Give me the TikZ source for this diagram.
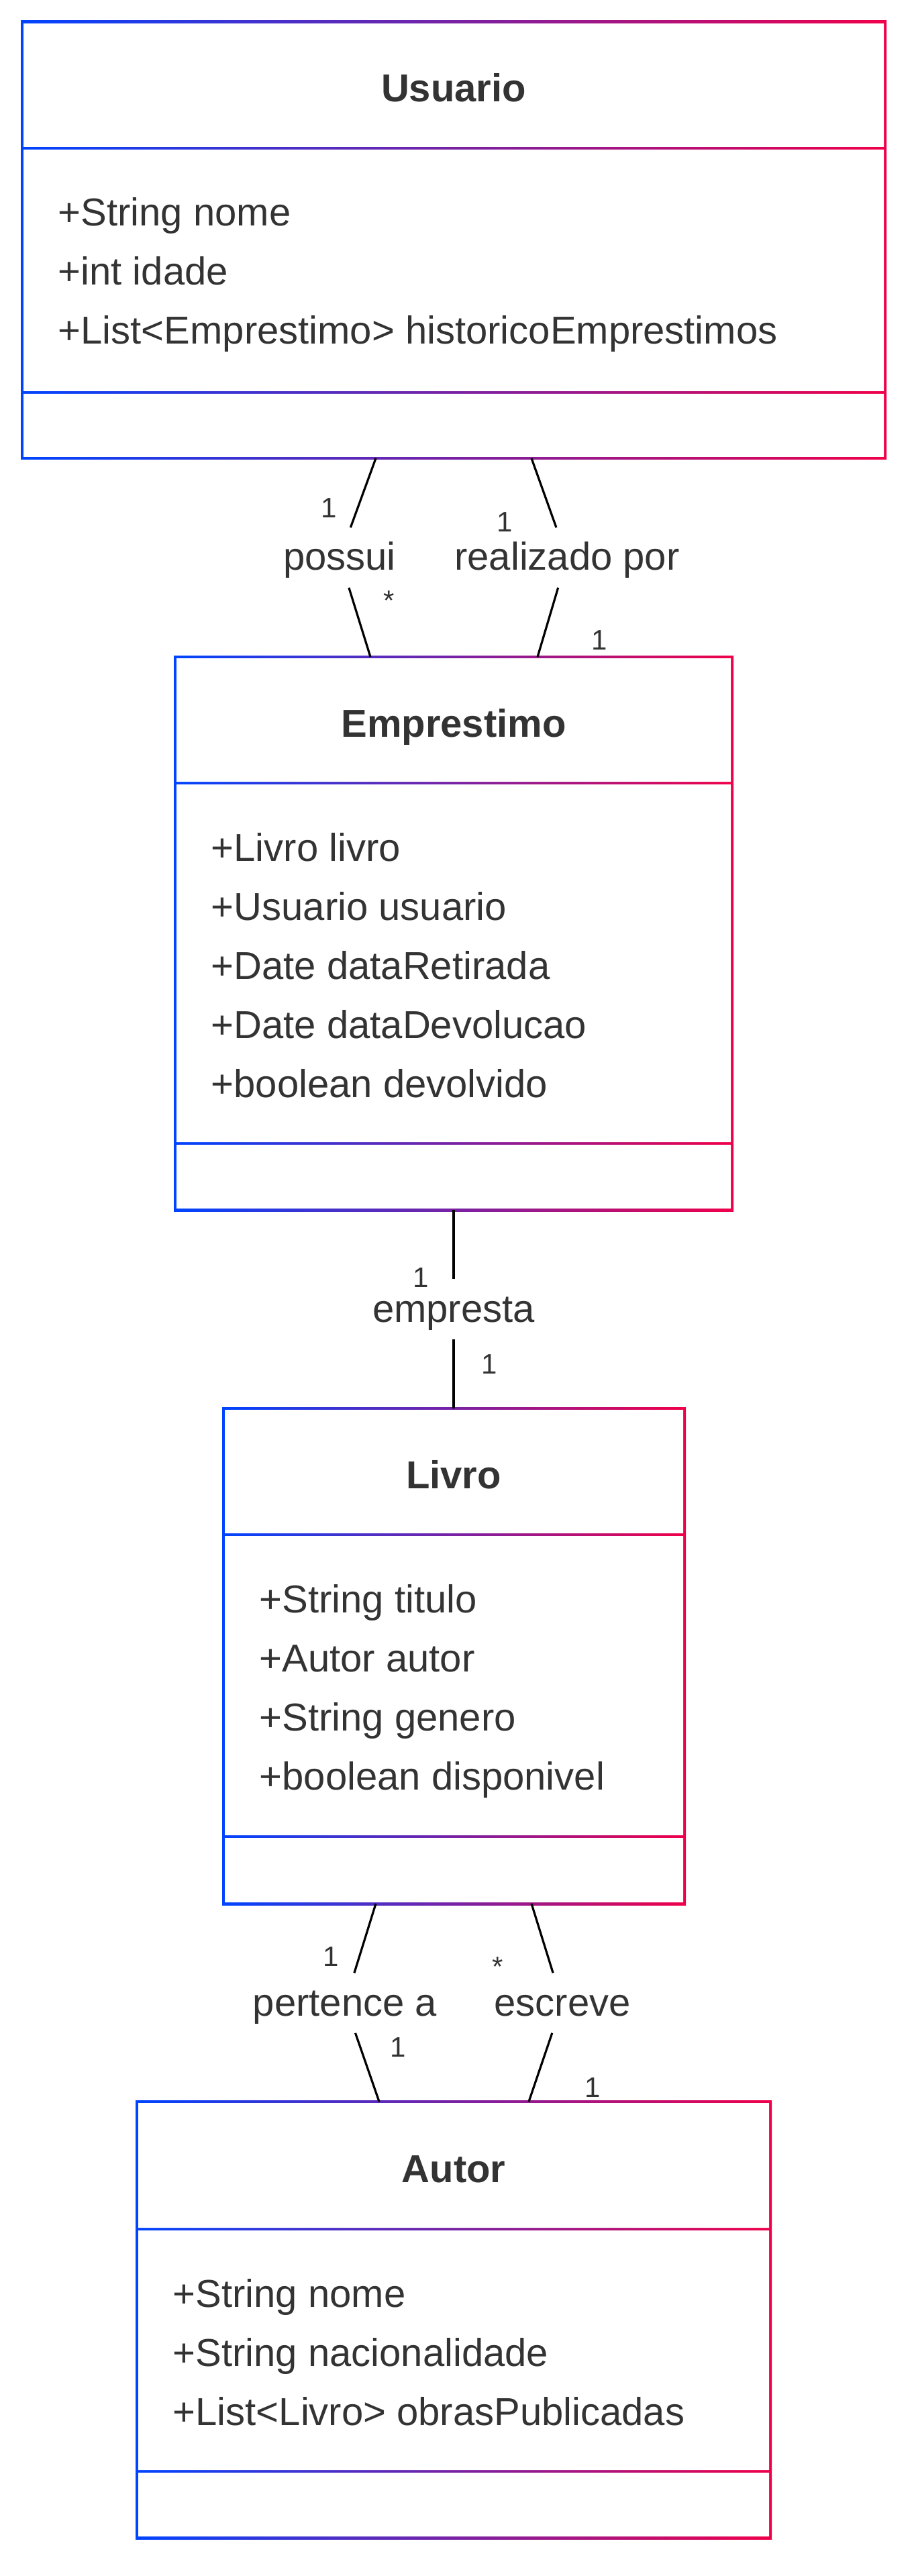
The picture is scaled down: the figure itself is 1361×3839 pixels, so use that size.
\documentclass[tikz,border=0pt]{standalone}
\usepackage{fontspec}
\setmainfont{Liberation Sans}
\usetikzlibrary{positioning, calc}

\definecolor{umlblue}{HTML}{0044FF}
\definecolor{umlred}{HTML}{F0004A}
\definecolor{umltext}{HTML}{333333}

% box with gradient border: name, x1, y1, x2, y2, first divider, second divider
\newcommand{\umlclass}[7]{%
    \shade[left color=umlblue, right color=umlred] (#2-2,#3-2) rectangle (#4+2,#5+2);
    \fill[white] (#2+2,#3+2) rectangle (#4-2,#6-2)
                 (#2+2,#6+2) rectangle (#4-2,#7-2)
                 (#2+2,#7+2) rectangle (#4-2,#5-2);
    \coordinate (#1-nw) at (#2,#3);
    \coordinate (#1-se) at (#4,#5);
}

\begin{document}
\begin{tikzpicture}[x=0.25pt, y=-0.25pt,
    classname/.style={anchor=base, inner sep=0pt, text=umltext, font=\fontsize{14.5}{17}\selectfont\bfseries},
    attr/.style={anchor=base west, inner sep=0pt, text=umltext, font=\fontsize{14.5}{17}\selectfont},
    rel/.style={inner xsep=2pt, inner ysep=0pt, text height=15.75pt, text depth=6.25pt, text=umltext, font=\fontsize{14.5}{17}\selectfont},
    mult/.style={anchor=base, inner sep=0pt, text=umltext, font=\fontsize{10.5}{12}\selectfont},
    assoc/.style={draw=black, line width=0.8pt}]
    \useasboundingbox (0,0) rectangle (1361,3839);

    \umlclass{usuario}{33}{33}{1319}{683}{221}{585}
    \umlclass{emprestimo}{261}{979}{1091}{1803}{1167}{1704}
    \umlclass{livro}{333}{2099}{1020}{2837}{2287}{2737}
    \umlclass{autor}{204}{3132}{1148}{3782}{3322}{3683}

    \node[classname] (usuario-t) at (676, 152) {Usuario};
    \foreach \t [count=\i] in {+String nome, +int idade, +List<Emprestimo> historicoEmprestimos}
        \node[attr] (usuario-a\i) at (86, 337+88*\i-88) {\t};

    \node[classname] (emprestimo-t) at (676, 1098) {Emprestimo};
    \foreach \t [count=\i] in {+Livro livro, +Usuario usuario, +Date dataRetirada, +Date dataDevolucao, +boolean devolvido}
        \node[attr] (emprestimo-a\i) at (314, 1283+88*\i-88) {\t};

    \node[classname] (livro-t) at (676, 2218) {Livro};
    \foreach \t [count=\i] in {+String titulo, +Autor autor, +String genero, +boolean disponivel}
        \node[attr] (livro-a\i) at (386, 2403+88*\i-88) {\t};

    \node[classname] (autor-t) at (676, 3252) {Autor};
    \foreach \t [count=\i] in {+String nome, +String nacionalidade, +List<Livro> obrasPublicadas}
        \node[attr] (autor-a\i) at (257, 3438+88*\i-88) {\t};

    % attachment points on the boxes
    \coordinate (u-possui) at (560, 683);
    \coordinate (e-possui) at (552, 979);
    \coordinate (u-realizado) at (792, 683);
    \coordinate (e-realizado) at (801, 979);
    \coordinate (e-empresta) at (676, 1803);
    \coordinate (l-empresta) at (676, 2099);
    \coordinate (l-pertence) at (560, 2837);
    \coordinate (a-pertence) at (565, 3132);
    \coordinate (l-escreve) at (792, 2837);
    \coordinate (a-escreve) at (788, 3132);

    \node[rel] (possui) at (506, 831) {possui};
    \node[rel] (realizado) at (845, 831) {realizado por};
    \node[rel] (empresta) at (676, 1951) {empresta};
    \node[rel] (pertence) at (514, 2985) {pertence a};
    \node[rel] (escreve) at (838, 2985) {escreve};

    \draw
    (u-possui) edge[assoc] (possui)
    (possui) edge[assoc] (e-possui)
    (u-realizado) edge[assoc] (realizado)
    (realizado) edge[assoc] (e-realizado)
    (e-empresta) edge[assoc] (empresta)
    (empresta) edge[assoc] (l-empresta)
    (l-pertence) edge[assoc] (pertence)
    (pertence) edge[assoc] (a-pertence)
    (l-escreve) edge[assoc] (escreve)
    (escreve) edge[assoc] (a-escreve);

    \node[mult] (m-possui-u) at (490, 772) {1};
    \node[mult] (m-possui-e) at (580, 910) {*};
    \node[mult] (m-realizado-u) at (752, 793) {1};
    \node[mult] (m-realizado-e) at (893, 968) {1};
    \node[mult] (m-empresta-e) at (627, 1918) {1};
    \node[mult] (m-empresta-l) at (729, 2047) {1};
    \node[mult] (m-pertence-l) at (493, 2930) {1};
    \node[mult] (m-pertence-a) at (593, 3065) {1};
    \node[mult] (m-escreve-l) at (742, 2945) {*};
    \node[mult] (m-escreve-a) at (883, 3125) {1};
\end{tikzpicture}
\end{document}
